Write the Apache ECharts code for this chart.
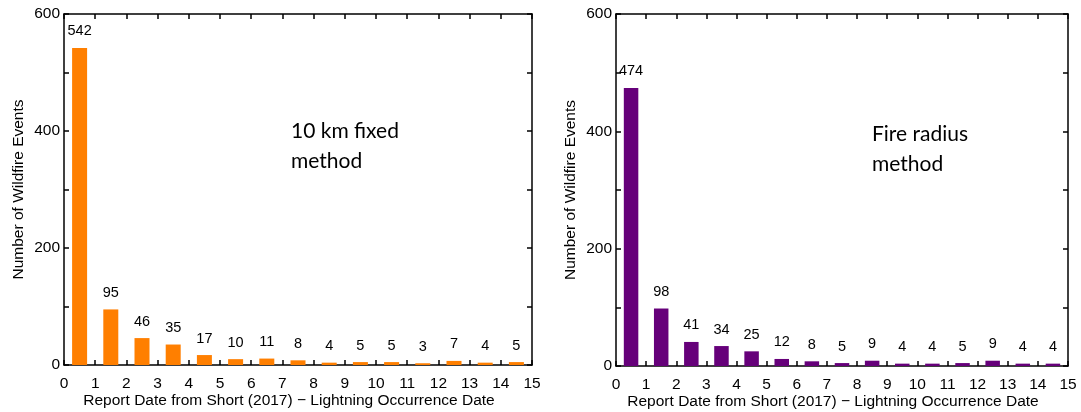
<!DOCTYPE html>
<html>
<head>
<meta charset="utf-8">
<script src="https://cdn.jsdelivr.net/npm/echarts@6/dist/echarts.min.js"></script>
<style>
  html, body { margin: 0; padding: 0; background: #fff; }
  #chart { width: 1081px; height: 412px; }
</style>
</head>
<body>
<div id="chart"></div>
<script>
// Day-difference bins (bin start, each bin 1 day wide)
const binStarts = [0, 1, 2, 3, 4, 5, 6, 7, 8, 9, 10, 11, 12, 13, 14];
// Left panel: 10 km fixed method
const fixedCounts = [542, 95, 46, 35, 17, 10, 11, 8, 4, 5, 5, 3, 7, 4, 5];
// Right panel: fire radius method
const radiusCounts = [474, 98, 41, 34, 25, 12, 8, 5, 9, 4, 4, 5, 9, 4, 4];
const xTickLabels = ['0','1','2','3','4','5','6','7','8','9','10','11','12','13','14','15'];
const yTickLabels = ['0', '200', '400', '600'];
const xTitle = 'Report Date from Short (2017) \u2212 Lightning Occurrence Date';
const yTitle = 'Number of Wildfire Events';
const panelNotes = ['10 km fixed\nmethod', 'Fire radius\nmethod'];

const FONT = 'Liberation Sans';
const line = { lineStyle: { color: '#000', width: 1.5 } };

function xAxes(gi) {
  return [
    {
      gridIndex: gi, type: 'value', min: 0, max: 15, interval: 1, position: 'bottom',
      axisLine: { show: true, onZero: false, ...line },
      axisTick: { show: true, inside: true, length: 5, ...line },
      splitLine: { show: false },
      axisLabel: { color: '#000', fontFamily: FONT, fontSize: 15.5, margin: 11,
        formatter: v => xTickLabels[Math.round(v)] },
      name: xTitle, nameLocation: 'middle', nameGap: 27.5, nameMoveOverlap: false,
      nameTextStyle: { color: '#000', fontFamily: FONT, fontSize: 15.5, padding: [0, 18, 0, 0] }
    },
    {
      gridIndex: gi, type: 'value', min: 0, max: 15, interval: 1, position: 'top',
      axisLine: { show: true, onZero: false, ...line },
      axisTick: { show: true, inside: true, length: 5, ...line },
      splitLine: { show: false },
      axisLabel: { show: false }
    }
  ];
}
function yAxes(gi) {
  return [
    {
      gridIndex: gi, type: 'value', min: 0, max: 600, interval: 100, position: 'left',
      axisLine: { show: true, onZero: false, ...line },
      axisTick: { show: true, inside: true, length: 5, ...line },
      splitLine: { show: false },
      axisLabel: { color: '#000', fontFamily: FONT, fontSize: 15.5, margin: 4,
        formatter: v => (yTickLabels.indexOf(String(v)) >= 0 ? String(v) : '') },
      name: yTitle, nameLocation: 'middle', nameGap: 37, nameRotate: 90, nameMoveOverlap: false,
      nameTextStyle: { color: '#000', fontFamily: FONT, fontSize: 15.5 }
    },
    {
      gridIndex: gi, type: 'value', min: 0, max: 600, interval: 100, position: 'right',
      axisLine: { show: true, onZero: false, ...line },
      axisTick: { show: true, inside: true, length: 5, ...line },
      splitLine: { show: false },
      axisLabel: { show: false }
    }
  ];
}
function barSeries(counts, gi, color, width) {
  return {
    type: 'bar',
    xAxisIndex: gi * 2, yAxisIndex: gi * 2,
    data: counts.map((v, i) => [binStarts[i] + 0.5, v]),
    barWidth: width,
    itemStyle: { color: color },
    label: { show: true, position: 'top', distance: 9, color: '#000',
      fontFamily: FONT, fontSize: 14.5, formatter: p => String(p.value[1]) },
    silent: true
  };
}

const chart = echarts.init(document.getElementById('chart'), null, { renderer: 'canvas' });
chart.setOption({
  animation: false,
  backgroundColor: '#fff',
  grid: [
    { left: 64, top: 14, width: 468, height: 351, outerBoundsMode: 'none', containLabel: false },
    { left: 616, top: 14, width: 452, height: 352, outerBoundsMode: 'none', containLabel: false }
  ],
  xAxis: [...xAxes(0), ...xAxes(1)],
  yAxis: [...yAxes(0), ...yAxes(1)],
  series: [
    barSeries(fixedCounts, 0, '#FF7F00', 15),
    barSeries(radiusCounts, 1, '#66007A', 14.5)
  ],
  graphic: [
    { type: 'text', left: 291, top: 116,
      style: { text: panelNotes[0], fill: '#000', font: '21px Lato', lineHeight: 30 } },
    { type: 'text', left: 872, top: 119,
      style: { text: panelNotes[1], fill: '#000', font: '21px Lato', lineHeight: 30 } }
  ]
});
</script>
</body>
</html>
